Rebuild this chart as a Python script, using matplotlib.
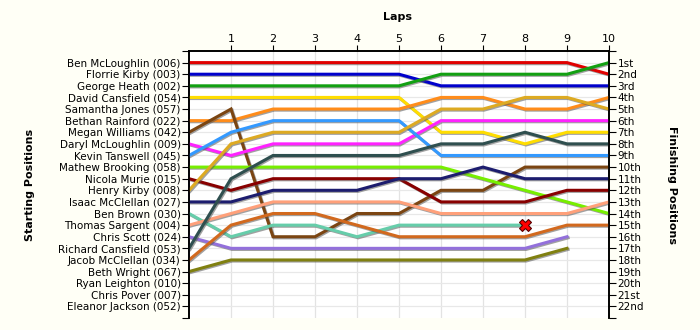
import matplotlib
matplotlib.use("Agg")
import matplotlib.pyplot as plt
import matplotlib.patheffects as pe
import numpy as np

# riders in starting order (grid position 1..22)
riders = ["Ben McLoughlin (006)", "Florrie Kirby (003)", "George Heath (002)",
          "David Cansfield (054)", "Samantha Jones (057)", "Bethan Rainford (022)",
          "Megan Williams (042)", "Daryl McLoughlin (009)", "Kevin Tanswell (045)",
          "Mathew Brooking (058)", "Nicola Murie (015)", "Henry Kirby (008)",
          "Isaac McClellan (027)", "Ben Brown (030)", "Thomas Sargent (004)",
          "Chris Scott (024)", "Richard Cansfield (053)", "Jacob McClellan (034)",
          "Beth Wright (067)", "Ryan Leighton (010)", "Chris Pover (007)",
          "Eleanor Jackson (052)"]

# position after each lap (lap 0 = start), empty = no lap data
positions = [
    [1, 1, 1, 1, 1, 1, 1, 1, 1, 1, 2],
    [2, 2, 2, 2, 2, 2, 3, 3, 3, 3, 3],
    [3, 3, 3, 3, 3, 3, 2, 2, 2, 2, 1],
    [4, 4, 4, 4, 4, 4, 7, 7, 8, 7, 7],
    [],
    [6, 6, 5, 5, 5, 5, 4, 4, 5, 5, 4],
    [7, 5, 16, 16, 14, 14, 12, 12, 10, 10, 10],
    [8, 9, 8, 8, 8, 8, 6, 6, 6, 6, 6],
    [9, 7, 6, 6, 6, 6, 9, 9, 9, 9, 9],
    [10, 10, 10, 10, 10, 10, 10, 11, 12, 13, 14],
    [11, 12, 11, 11, 11, 11, 13, 13, 13, 12, 12],
    [12, 8, 7, 7, 7, 7, 5, 5, 4, 4, 5],
    [13, 13, 12, 12, 12, 11, 11, 10, 11, 11, 11],
    [14, 16, 15, 15, 16, 15, 15, 15, 15],
    [15, 14, 13, 13, 13, 13, 14, 14, 14, 14, 13],
    [16, 17, 17, 17, 17, 17, 17, 17, 17, 16],
    [17, 11, 9, 9, 9, 9, 8, 8, 7, 8, 8],
    [18, 15, 14, 14, 15, 16, 16, 16, 16, 15, 15],
    [19, 18, 18, 18, 18, 18, 18, 18, 18, 17],
    [],
    [],
    [],
]

colors = ["#e00000", "#0000cc", "#12a012", "#ffdd00", "#cccccc", "#ff8c1a",
          "#7b4512", "#ff22ff", "#3399ff", "#77ee00", "#880000", "#ddaa22",
          "#1c1c6e", "#66cdaa", "#ffa07a", "#9370db", "#2f4f4f", "#d2691e",
          "#808010", "#999999", "#999999", "#999999"]

# retired: Ben Brown after lap 8
retired_lap = [8]
retired_pos = [15]

laps = list(range(0, 11))
finish_labels = ["1st", "2nd", "3rd", "4th", "5th", "6th", "7th", "8th", "9th",
                 "10th", "11th", "12th", "13th", "14th", "15th", "16th", "17th",
                 "18th", "19th", "20th", "21st", "22nd"]

bg = "#fffff6"
fig = plt.figure(figsize=(7, 3.3), dpi=100, facecolor=bg)
ax = fig.add_axes([189 / 700, 12 / 330, 420 / 700, 267 / 330])
ax.set_facecolor("white")

shadow = [pe.SimpleLineShadow(offset=(0.8, -0.8), shadow_color="#555555", alpha=0.55), pe.Normal()]
for pos, c in zip(positions, colors):
    if not pos:
        continue
    ax.plot(laps[:len(pos)], pos, color=c, lw=2.2, solid_joinstyle="miter",
            path_effects=shadow, zorder=3)

ax.plot(retired_lap, retired_pos, marker="X", ms=8, color="#ff0000",
        markeredgecolor="#550000", markeredgewidth=0.8, ls="none", zorder=5)

ax.set_xlim(0, 10)
ax.set_ylim(23, 0)

# grid
for x in range(1, 10):
    ax.axvline(x, color="#e3e3e3", lw=0.9, zorder=1)
for y in range(1, 23):
    ax.axhline(y, color="#e8e8e8", lw=0.9, zorder=1)

# top axis for laps
ax.xaxis.tick_top()
ax.set_xticks(range(1, 11))
ax.set_xticklabels([str(i) for i in range(1, 11)], fontsize=8)
ax.tick_params(axis="x", length=4, direction="out", pad=1)

# left: starting positions
ax.set_yticks(range(0, 24))
ax.set_yticklabels([""] + riders + [""], fontsize=7.5)
ax.tick_params(axis="y", length=5, direction="out", pad=1)

# right: finishing positions
ax2 = ax.twinx()
ax2.set_ylim(23, 0)
ax2.set_yticks(range(0, 24))
ax2.set_yticklabels([""] + finish_labels + [""], fontsize=7.5)
ax2.tick_params(axis="y", length=5, direction="out", pad=1)

for a in (ax, ax2):
    a.spines["bottom"].set_visible(False)
    for s in ("top", "left", "right"):
        a.spines[s].set_linewidth(1.2)

fig.text(397 / 700, 1 - 17 / 330, "Laps", ha="center", va="center",
         fontsize=8, fontweight="bold")
fig.text(30 / 700, 1 - 185 / 330, "Starting Positions", ha="center", va="center",
         rotation=90, fontsize=8, fontweight="bold")
fig.text(672 / 700, 1 - 185 / 330, "Finishing Positions", ha="center", va="center",
         rotation=-90, fontsize=8, fontweight="bold")

fig.savefig("out.png", dpi=100, facecolor=bg)
